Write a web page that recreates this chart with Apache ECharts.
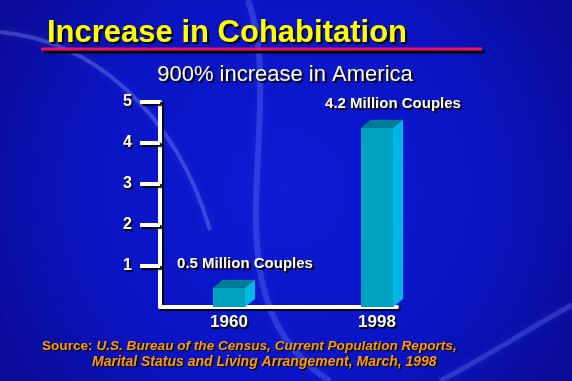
<!DOCTYPE html>
<html>
<head>
<meta charset="utf-8">
<style>html,body{margin:0;padding:0;background:#0a14c0;}#c{width:572px;height:381px;}</style>
<script src="https://cdn.jsdelivr.net/npm/echarts@6/dist/echarts.min.js"></script>
</head>
<body>
<div id="c"></div>
<script>
var titleText = 'Increase in Cohabitation';
var subtitleText = '900% increase in America';
var categories = ['1960', '1998'];
var values = [0.47, 4.37];
var barLabels = ['0.5 Million Couples', '4.2 Million Couples'];
var yTicks = [1, 2, 3, 4, 5];
var sourceLine1 = 'U.S. Bureau of the Census, Current Population Reports,';
var sourceLine2 = 'Marital Status and Living Arrangement, March, 1998';

var FONT = '"Liberation Sans", Arial, sans-serif';
var chart = echarts.init(document.getElementById('c'), null, {renderer: 'canvas'});

var SH = {textShadowColor: '#000000', textShadowOffsetX: 2, textShadowOffsetY: 2, textShadowBlur: 1};
function withShadow(o) { return Object.assign({}, SH, o); }

function renderBar(params, api) {
  var x = api.value(0), v = api.value(1);
  var top = api.coord([x, v]);
  var base = api.coord([x, 0]);
  var w = 32, dx = 10, dy = 8;
  var l = top[0] - w / 2, r = top[0] + w / 2, t = top[1], b = base[1];
  return {
    type: 'group',
    children: [
      {type: 'polygon', shape: {points: [[l, t], [r, t], [r, b], [l, b]]}, style: {fill: '#00a2c2'}},
      {type: 'polygon', shape: {points: [[l, t], [l + dx, t - dy], [r + dx, t - dy], [r, t]]}, style: {fill: '#007e96'}},
      {type: 'polygon', shape: {points: [[r, t], [r + dx, t - dy], [r + dx, b - dy], [r, b]]}, style: {fill: '#00b6e2'}},
      {type: 'text', style: withShadow({
        text: barLabels[params.dataIndex], x: top[0] + 16, y: t - 24,
        align: 'center', verticalAlign: 'middle',
        fill: '#ffffff', font: 'bold 15px ' + FONT
      })}
    ]
  };
}

var shadowLine = {shadowColor: 'rgba(0,0,0,0.9)', shadowOffsetX: 2, shadowOffsetY: 2, shadowBlur: 1};

var option = {
  backgroundColor: {
    type: 'radial', x: 0.5, y: 0.5, r: 0.85,
    colorStops: [{offset: 0, color: '#0c1bd4'}, {offset: 0.6, color: '#0a14c4'}, {offset: 1, color: '#0a0c98'}]
  },
  animation: false,
  graphic: [
    {type: 'bezierCurve', silent: true, z: -10,
      shape: {x1: 0, y1: 32, x2: 210, y2: 230, cpx1: 90, cpy1: 40, cpx2: 175, cpy2: 110},
      style: {stroke: 'rgba(130,150,255,0.35)', lineWidth: 4, fill: null, shadowBlur: 8, shadowColor: 'rgba(130,150,255,0.5)'}},
    {type: 'bezierCurve', silent: true, z: -10,
      shape: {x1: 248, y1: 0, x2: 330, y2: 381, cpx1: 290, cpy1: 120, cpx2: 200, cpy2: 300},
      style: {stroke: 'rgba(110,130,255,0.3)', lineWidth: 6, fill: null, shadowBlur: 10, shadowColor: 'rgba(110,130,255,0.5)'}},
    {type: 'bezierCurve', silent: true, z: -10,
      shape: {x1: 440, y1: 381, x2: 572, y2: 305, cpx1: 490, cpy1: 355, cpx2: 535, cpy2: 325},
      style: {stroke: 'rgba(110,130,255,0.3)', lineWidth: 5, fill: null, shadowBlur: 8, shadowColor: 'rgba(110,130,255,0.5)'}},
    {type: 'line', silent: true, shape: {x1: 44, y1: 52, x2: 485, y2: 52}, style: {stroke: '#000000', lineWidth: 3}},
    {type: 'line', silent: true, shape: {x1: 41, y1: 49, x2: 482, y2: 49}, style: {stroke: '#ee1060', lineWidth: 3}},
    {type: 'text', silent: true, style: withShadow({
      text: titleText, x: 47, y: 33, verticalAlign: 'middle', fill: '#ffff00', font: 'bold 31px ' + FONT})},
    {type: 'text', silent: true, style: withShadow({
      text: subtitleText, x: 285, y: 75, align: 'center', verticalAlign: 'middle', fill: '#ffffff', font: '22px ' + FONT})},
    {type: 'text', silent: true, style: {
      text: '{n|Source: }{i|' + sourceLine1 + '}', x: 42, y: 346, verticalAlign: 'middle',
      rich: {
        n: withShadow({fill: '#ff9a00', font: 'bold 13.6px ' + FONT, textShadowOffsetX: 1.5, textShadowOffsetY: 1.5}),
        i: withShadow({fill: '#ff9a00', font: 'italic bold 13.6px ' + FONT, textShadowOffsetX: 1.5, textShadowOffsetY: 1.5})
      }}},
    {type: 'text', silent: true, style: withShadow({
      text: sourceLine2, x: 92, y: 362, verticalAlign: 'middle', fill: '#ff9a00', font: 'italic bold 14px ' + FONT,
      textShadowOffsetX: 1.5, textShadowOffsetY: 1.5})}
  ],
  grid: [
    {left: 155, width: 296, top: 102, bottom: 74},
    {left: 160, width: 237, top: 102, bottom: 74}
  ],
  xAxis: [
    {type: 'category', gridIndex: 0, data: categories,
      axisLine: {show: false}, axisTick: {show: false},
      axisLabel: withShadow({color: '#ffffff', fontFamily: FONT, fontWeight: 'bold', fontSize: 17, margin: 7,
        textShadowOffsetX: 1.5, textShadowOffsetY: 1.5})},
    {type: 'value', gridIndex: 1, min: 0, max: 1,
      axisLine: {show: true, onZero: false, lineStyle: Object.assign({color: '#ffffff', width: 4}, shadowLine)},
      axisTick: {show: false}, axisLabel: {show: false}, splitLine: {show: false}}
  ],
  yAxis: [
    {type: 'value', gridIndex: 0, min: 0, max: 5, show: false, splitLine: {show: false}},
    {type: 'value', gridIndex: 1, min: 0, max: 5, interval: 1,
      axisLine: {show: true, lineStyle: Object.assign({color: '#ffffff', width: 4}, shadowLine)},
      axisTick: {show: true, length: 20, customValues: yTicks, lineStyle: Object.assign({color: '#ffffff', width: 4}, shadowLine)},
      axisLabel: withShadow({customValues: yTicks, color: '#ffffff', fontFamily: FONT, fontWeight: 'bold', fontSize: 16, margin: 28,
        textShadowOffsetX: 1.5, textShadowOffsetY: 1.5}),
      splitLine: {show: false}}
  ],
  series: [
    {type: 'custom', xAxisIndex: 0, yAxisIndex: 0, renderItem: renderBar,
      data: categories.map(function (c, i) { return [i, values[i]]; }), z: 5}
  ]
};
chart.setOption(option);
</script>
</body>
</html>
